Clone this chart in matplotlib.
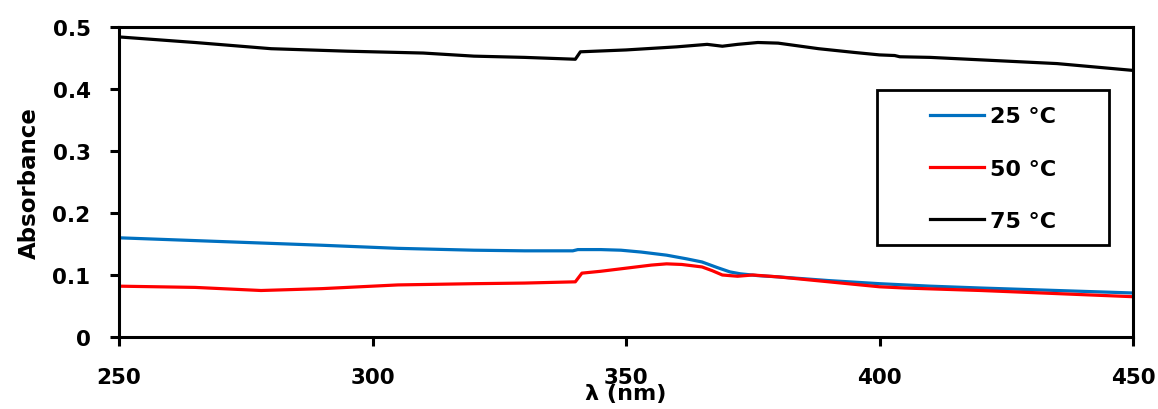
import numpy as np
import matplotlib.pyplot as plt
from matplotlib.patches import Rectangle

plt.rcParams['font.family'] = ['DejaVu Sans']
plt.rcParams['font.weight'] = 'bold'

# wavelengths (nm) and absorbance values
wl_25 = [250, 270, 290, 305, 320, 330, 339.5, 340.5, 345, 349, 353, 358, 362, 365, 368, 370.5, 372.5, 376, 380, 390, 400, 410, 420, 435, 450]
abs_25 = [0.160, 0.154, 0.148, 0.143, 0.140, 0.139, 0.139, 0.141, 0.141, 0.140, 0.137, 0.132, 0.126, 0.121, 0.112, 0.105, 0.102, 0.099, 0.097, 0.091, 0.086, 0.082, 0.079, 0.075, 0.071]

wl_50 = [250, 265, 278, 290, 305, 320, 330, 340, 341.3, 345, 350, 355, 358, 361, 365, 367, 369, 372, 375, 380, 390, 400, 405, 420, 435, 450]
abs_50 = [0.082, 0.080, 0.075, 0.078, 0.084, 0.086, 0.087, 0.089, 0.103, 0.106, 0.111, 0.116, 0.118, 0.117, 0.113, 0.107, 0.100, 0.098, 0.100, 0.097, 0.089, 0.081, 0.079, 0.075, 0.070, 0.065]

wl_75 = [250, 265, 280, 295, 310, 320, 330, 340, 341, 350, 360, 366, 369, 372, 376, 380, 388, 395, 400, 403, 404, 410, 420, 435, 450]
abs_75 = [0.484, 0.475, 0.465, 0.461, 0.458, 0.453, 0.451, 0.448, 0.460, 0.463, 0.468, 0.472, 0.469, 0.472, 0.475, 0.474, 0.465, 0.459, 0.455, 0.454, 0.452, 0.451, 0.447, 0.441, 0.430]

labels = ['25 °C', '50 °C', '75 °C']
colors = ['#0070c0', '#ff0000', '#000000']

fig = plt.figure(figsize=(11.58, 4.10), dpi=100)
ax = fig.add_axes([0.1028, 0.1756, 0.8756, 0.7561])

for x, y, lab, c in zip([wl_25, wl_50, wl_75], [abs_25, abs_50, abs_75], labels, colors):
    ax.plot(x, y, color=c, linewidth=2.3, label=lab, solid_joinstyle='round')

ax.set_xlim(250, 450)
ax.set_ylim(0, 0.5)
ax.set_xticks([250, 300, 350, 400, 450])
ax.set_yticks([0, 0.1, 0.2, 0.3, 0.4, 0.5])
ax.set_yticklabels(['0', '0.1', '0.2', '0.3', '0.4', '0.5'])

for s in ax.spines.values():
    s.set_linewidth(2.2)
ax.tick_params(axis='both', direction='out', length=6.5, width=2.2, labelsize=15.5)
ax.tick_params(axis='x', pad=15)
ax.tick_params(axis='y', pad=14)

ax.set_xlabel('λ (nm)', fontsize=16, fontweight='bold', labelpad=-3)
ax.set_ylabel('Absorbance', fontsize=16.5, fontweight='bold', labelpad=8)

# legend box drawn separately (wide side margins in the original)
ax.add_patch(Rectangle((0.7475, 0.2968), 0.2288, 0.5, transform=ax.transAxes,
                       fill=True, facecolor='white', edgecolor='black', linewidth=2.0, zorder=5))
leg = ax.legend(loc='center left', bbox_to_anchor=(0.7995, 0.543), frameon=False,
                fontsize=16, handlelength=2.45, handletextpad=0.25,
                labelspacing=1.45, borderpad=0, borderaxespad=0)
leg.set_zorder(6)
for t in leg.get_texts():
    t.set_fontweight('bold')

fig.savefig('out.png', dpi=100)
